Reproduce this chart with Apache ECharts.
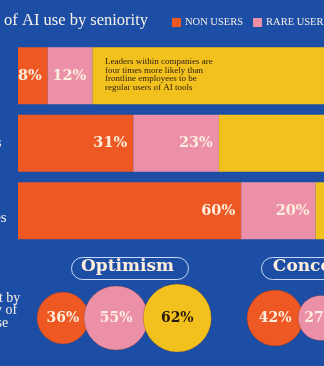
<!DOCTYPE html>
<html>
<head>
<meta charset="utf-8">
<script src="https://cdn.jsdelivr.net/npm/echarts@6/dist/echarts.min.js"></script>
<style>
  html, body { margin: 0; padding: 0; background: #1d4ea6; }
  #chart { width: 324px; height: 366px; }
</style>
</head>
<body>
<div id="chart"></div>
<script>
// Frequency of AI use by seniority (share of each group, %)
const groups = ['Leaders', 'Managers', 'Frontline\nemployees'];
const seriesNames = ['NON USERS', 'RARE USERS', 'FREQUENT USERS'];
const nonUsers = [8, 31, 60];
const rareUsers = [12, 23, 20];
const frequentUsers = [80, 46, 20];

// Sentiment bubbles
const optimismLabel = 'Optimism';
const optimismValues = [36, 55, 62];
const concernsLabel = 'Concerns';
const concernsValues = [42, 27];

const note = 'Leaders within companies are\nfour times more likely than\nfrontline employees to be\nregular users of AI tools';

const BLUE = '#1d4ea6';
const ORANGE = '#ee5823';
const PINK = '#ec90a8';
const YELLOW = '#f3c11e';
const CREAM = '#fdeedd';
const DARK = '#2a1b10';
const colors = [ORANGE, PINK, YELLOW];

const chart = echarts.init(document.getElementById('chart'), null, { renderer: 'canvas' });

// Bubble layout: area proportional to value, circles chained left to right
const K = 4.33;           // px radius per sqrt(value)
const OVERLAP = 5;
function chain(values, startX) {
  const out = [];
  let x = startX;
  values.forEach((v, i) => {
    const r = K * Math.sqrt(v);
    if (i === 0) x = startX + r;
    else x += K * Math.sqrt(values[i - 1]) + r - OVERLAP;
    out.push({ v: v, x: x, r: r, i: i });
  });
  return out;
}
const BUBBLE_Y = 318;
function bubbleData(values, startX) {
  return chain(values, startX).map(b => ({
    value: [b.x, BUBBLE_Y, b.v],
    symbolSize: b.r * 2,
    itemStyle: { color: colors[b.i], opacity: 1, borderColor: 'rgba(120,45,30,0.3)', borderWidth: 1 },
    label: { color: b.i === 2 ? DARK : CREAM }
  }));
}

const barLabel = {
  show: true,
  position: 'insideRight',
  distance: 6,
  formatter: p => p.value + '%',
  fontFamily: 'DejaVu Serif',
  fontWeight: 'bold',
  fontSize: 14.5,
  color: CREAM
};

const bubbleLabel = {
  show: true, position: 'inside', formatter: p => p.value[2] + '%',
  fontFamily: 'DejaVu Serif', fontWeight: 'bold', fontSize: 14
};

const option = {
  backgroundColor: BLUE,
  animation: false,
  legend: {
    left: 172, top: 17, width: 400, padding: 0,
    icon: 'rect',
    itemWidth: 9, itemHeight: 9,
    itemGap: 10,
    selectedMode: false,
    data: seriesNames,
    textStyle: { fontFamily: 'Liberation Serif', fontSize: 10.5, color: '#f4eee6', padding: [1, 0, 0, -1] }
  },
  grid: [
    { left: 18, top: 42, width: 372, height: 202.5, outerBoundsMode: 'none', containLabel: false },
    { left: 0, top: 0, width: 324, height: 366, outerBoundsMode: 'none', containLabel: false }
  ],
  xAxis: [
    { gridIndex: 0, type: 'value', min: 0, max: 100, show: false },
    { gridIndex: 1, type: 'value', min: 0, max: 324, show: false }
  ],
  yAxis: [
    {
      gridIndex: 0, type: 'category', inverse: true, data: groups,
      axisLine: { show: false }, axisTick: { show: false },
      axisLabel: {
        show: true, align: 'left', margin: 75.5,
        fontFamily: 'Liberation Serif', fontSize: 15, lineHeight: 14, color: '#f4eee6'
      }
    },
    { gridIndex: 1, type: 'value', min: 0, max: 366, inverse: true, show: false }
  ],
  series: [
    {
      name: seriesNames[0], type: 'bar', stack: 'use', barWidth: 57,
      itemStyle: { color: ORANGE }, label: barLabel, data: nonUsers
    },
    {
      name: seriesNames[1], type: 'bar', stack: 'use', barWidth: 57,
      itemStyle: { color: PINK }, label: barLabel, data: rareUsers
    },
    {
      name: seriesNames[2], type: 'bar', stack: 'use', barWidth: 57,
      itemStyle: { color: YELLOW }, label: Object.assign({}, barLabel, { color: DARK }),
      data: frequentUsers
    },
    {
      type: 'scatter', xAxisIndex: 1, yAxisIndex: 1, symbol: 'circle',
      label: bubbleLabel, data: bubbleData(optimismValues, 37)
    },
    {
      type: 'scatter', xAxisIndex: 1, yAxisIndex: 1, symbol: 'circle',
      label: bubbleLabel, data: bubbleData(concernsValues, 247)
    }
  ],
  graphic: [
    {
      type: 'text', right: 176, top: 12, z: 100,
      style: {
        text: 'Frequency of AI use by seniority',
        font: '16.5px "Liberation Serif"', fill: '#f7f1e8'
      }
    },
    {
      type: 'text', left: 105, top: 57, z: 100,
      style: {
        text: note, font: '9px "Liberation Serif"', lineHeight: 8.7, fill: DARK
      }
    },
    {
      type: 'rect', left: 69, top: 255, z: 100,
      shape: { width: 117, height: 22, r: 11 },
      style: { fill: 'none', stroke: '#c9d9f6', lineWidth: 1 }
    },
    {
      type: 'text', x: 127.5, y: 266.5, z: 100,
      style: {
        text: optimismLabel, font: 'bold 17px "DejaVu Serif"', fill: CREAM,
        align: 'center', verticalAlign: 'middle'
      }
    },
    {
      type: 'rect', left: 259, top: 255, z: 100,
      shape: { width: 117, height: 22, r: 11 },
      style: { fill: 'none', stroke: '#c9d9f6', lineWidth: 1 }
    },
    {
      type: 'text', x: 317.5, y: 266.5, z: 100,
      style: {
        text: concernsLabel, font: 'bold 17px "DejaVu Serif"', fill: CREAM,
        align: 'center', verticalAlign: 'middle'
      }
    },
    {
      type: 'text', x: -54, y: 292, z: 100,
      style: {
        text: 'Sentiment by\nfrequency of\nAI tool use',
        font: '14px "Liberation Serif"', lineHeight: 12.5, fill: '#f4eee6'
      }
    }
  ]
};

chart.setOption(option);
</script>
</body>
</html>
